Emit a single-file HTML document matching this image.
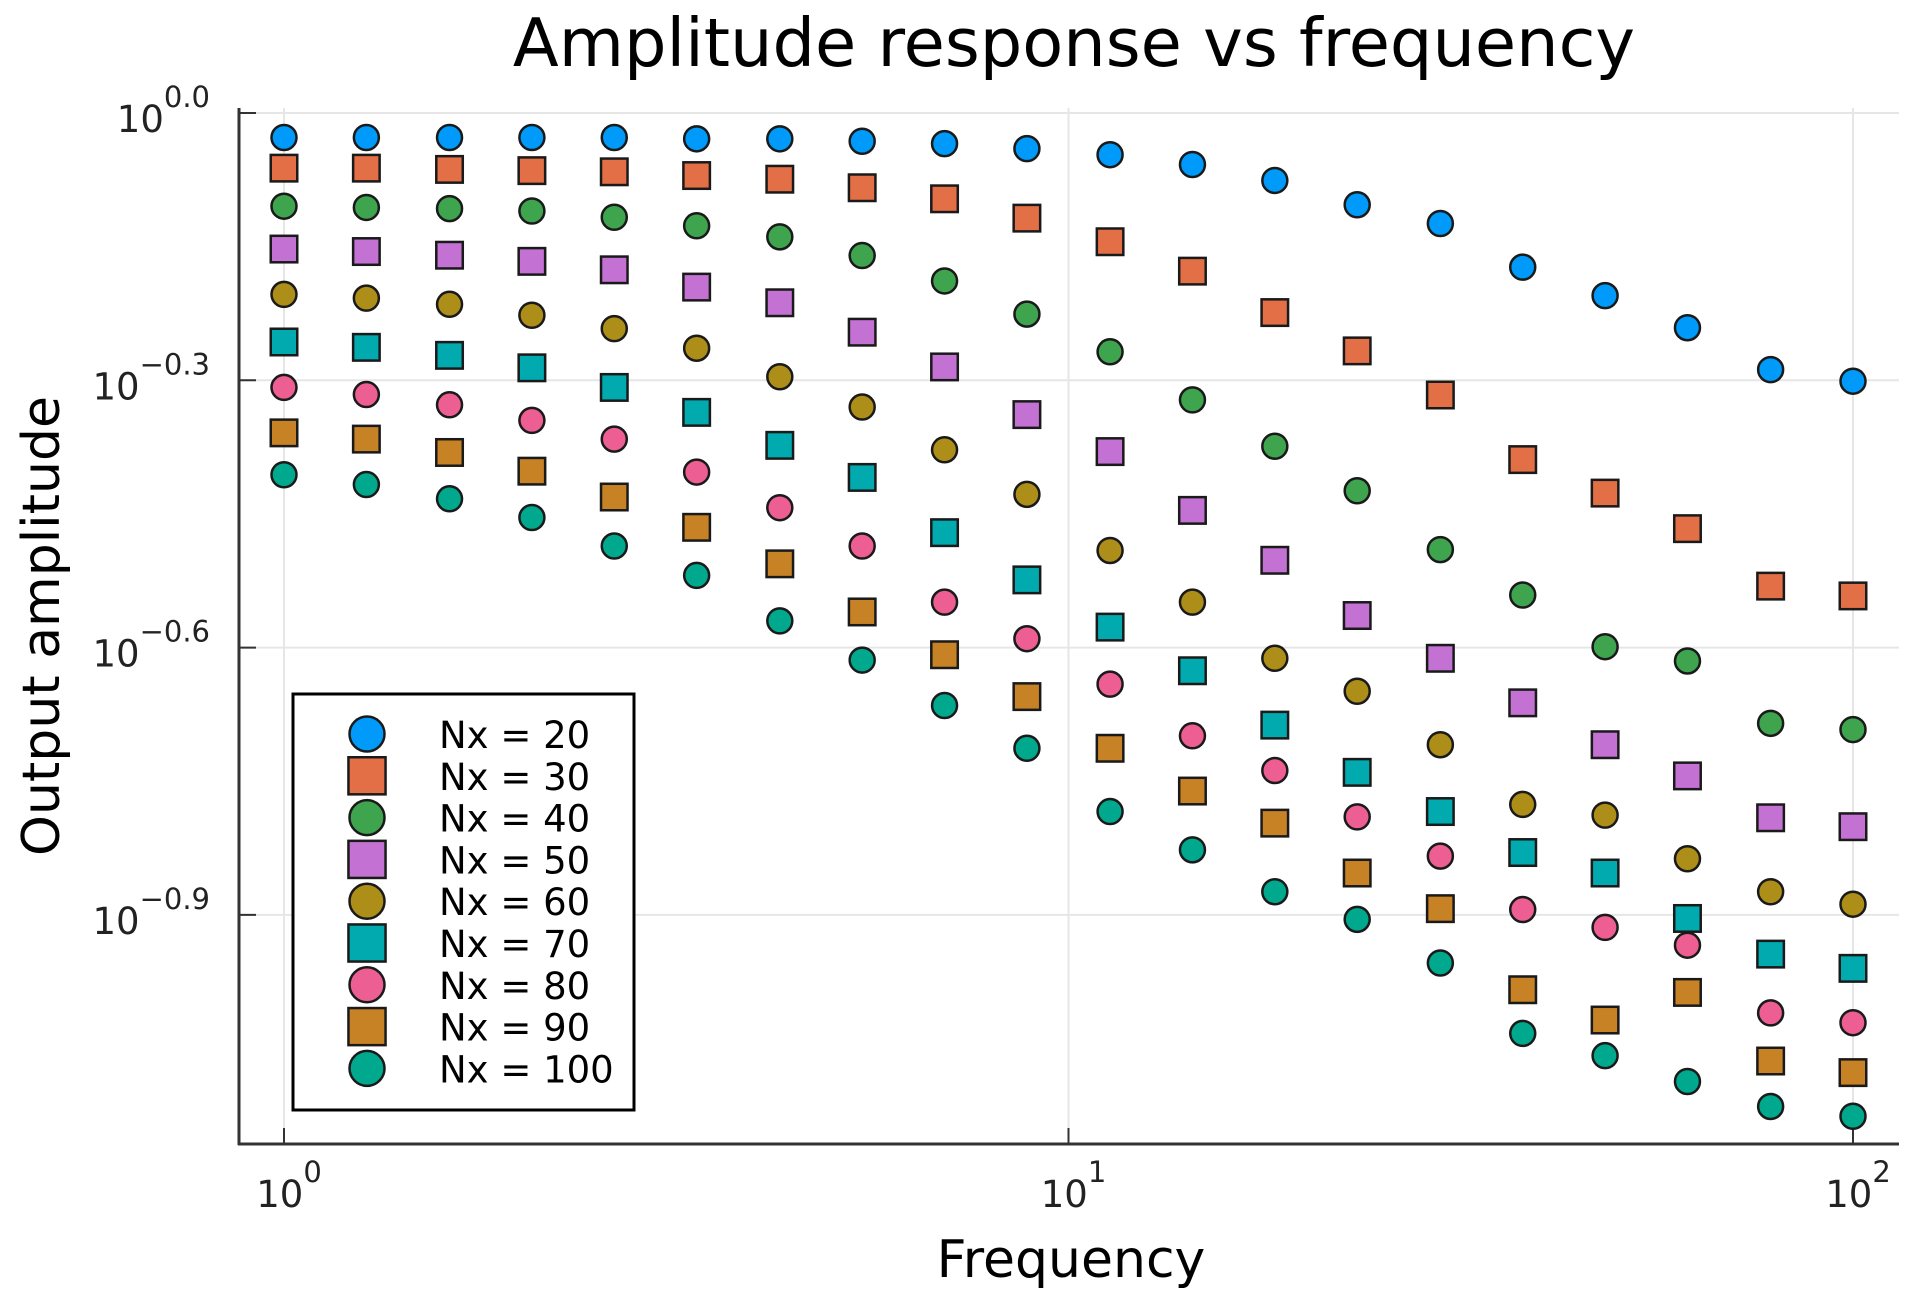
<!DOCTYPE html>
<html><head><meta charset="utf-8"><style>
html,body{margin:0;padding:0;background:#fff;}
svg text{font-family:"DejaVu Sans","Liberation Sans",sans-serif;fill:#000;}
</style></head><body>
<svg id="chart" width="1921" height="1304" viewBox="0 0 1921 1304" xmlns="http://www.w3.org/2000/svg">
<rect x="0" y="0" width="1921" height="1304" fill="#fff"/>
<text x="1074" y="66" font-size="67" text-anchor="middle">Amplitude response vs frequency</text>
<text x="1071" y="1277" font-size="52" text-anchor="middle">Frequency</text>
<text transform="translate(59,626) rotate(-90)" font-size="52" text-anchor="middle">Output amplitude</text>
<g id="grid"></g>
<g id="axes"></g>
<g id="marks"></g>
<g id="legend"></g>
</svg>
<script>
const seriesNames = ["Nx = 20","Nx = 30","Nx = 40","Nx = 50","Nx = 60","Nx = 70","Nx = 80","Nx = 90","Nx = 100"];
const seriesColors = ["#009AFA","#E36F47","#3EA44E","#C371D2","#AC8E18","#00AAAE","#ED5E93","#C68225","#00A98D"];
const seriesShapes = ["circle","square","circle","square","circle","square","circle","square","circle"];
const freqExponents = [0,0.105,0.211,0.316,0.421,0.526,0.632,0.737,0.842,0.947,1.053,1.158,1.263,1.368,1.474,1.579,1.684,1.789,1.895,2];
// log10 of output amplitude for each series
const logAmp20 = [-0.0275,-0.0275,-0.0275,-0.0275,-0.0275,-0.029,-0.029,-0.0317,-0.0344,-0.040,-0.0468,-0.0578,-0.0757,-0.103,-0.124,-0.173,-0.205,-0.241,-0.288,-0.301];
const logAmp30 = [-0.0619,-0.0619,-0.0633,-0.0647,-0.066,-0.0702,-0.0743,-0.0839,-0.0963,-0.118,-0.1445,-0.1775,-0.224,-0.267,-0.3165,-0.389,-0.4266,-0.4665,-0.531,-0.542];
const logAmp40 = [-0.1046,-0.106,-0.1073,-0.110,-0.117,-0.1266,-0.139,-0.160,-0.1885,-0.2257,-0.268,-0.322,-0.374,-0.424,-0.49,-0.541,-0.599,-0.615,-0.685,-0.692];
const logAmp50 = [-0.1527,-0.1555,-0.1596,-0.1665,-0.176,-0.1954,-0.213,-0.246,-0.285,-0.3385,-0.38,-0.446,-0.502,-0.564,-0.612,-0.662,-0.709,-0.744,-0.791,-0.801];
const logAmp60 = [-0.2036,-0.2078,-0.2147,-0.227,-0.242,-0.264,-0.296,-0.330,-0.378,-0.428,-0.491,-0.549,-0.612,-0.649,-0.709,-0.776,-0.788,-0.837,-0.874,-0.888];
const logAmp70 = [-0.257,-0.263,-0.272,-0.286,-0.308,-0.336,-0.373,-0.409,-0.471,-0.524,-0.577,-0.626,-0.687,-0.74,-0.784,-0.830,-0.853,-0.904,-0.944,-0.960];
const logAmp80 = [-0.308,-0.316,-0.3275,-0.345,-0.366,-0.403,-0.443,-0.486,-0.549,-0.590,-0.641,-0.699,-0.738,-0.79,-0.834,-0.894,-0.914,-0.934,-1.010,-1.021];
const logAmp90 = [-0.359,-0.366,-0.381,-0.402,-0.431,-0.465,-0.506,-0.56,-0.608,-0.655,-0.713,-0.761,-0.797,-0.853,-0.893,-0.984,-1.018,-0.987,-1.064,-1.077];
const logAmp100 = [-0.406,-0.417,-0.433,-0.454,-0.486,-0.519,-0.570,-0.614,-0.665,-0.713,-0.784,-0.827,-0.874,-0.905,-0.954,-1.033,-1.058,-1.087,-1.115,-1.126];
const xTickExps = [0,1,2];
const xTickLabels = ["0","1","2"];
const yTickExps = [0,-0.3,-0.6,-0.9];
const yTickLabels = ["0.0","\u22120.3","\u22120.6","\u22120.9"];

const allSeries = [logAmp20,logAmp30,logAmp40,logAmp50,logAmp60,logAmp70,logAmp80,logAmp90,logAmp100];
const NS = "http://www.w3.org/2000/svg";
const PL = 239, PR = 1899, PT = 108, PB = 1144;
const X0 = 284, XDEC = 784.5;
const Y0 = 113, YDEC = 891;
function xScale(e){ return X0 + e * XDEC; }
function yScale(l){ return Y0 - l * YDEC; }
function mk(tag, attrs, parent){ const el = document.createElementNS(NS, tag); for (const k in attrs) el.setAttribute(k, attrs[k]); parent.appendChild(el); return el; }

const grid = document.getElementById('grid');
const axes = document.getElementById('axes');
xTickExps.forEach((e,i)=>{
  const x = xScale(e);
  const gl = mk('line',{x1:x,x2:x,y1:PT,y2:PB,stroke:'#e6e6e6','stroke-width':2},grid);
  
  
  const tk = mk('line',{x1:x,x2:x,y1:PB,y2:PB-16,stroke:'#333','stroke-width':2},axes);
  
  
  const t = mk('text',{x:x+5,y:1207,'font-size':37,'text-anchor':'middle',style:'fill:#222'},axes);
  
  
  t.textContent = '10';
  const s = mk('tspan',{dy:-25,'font-size':29},t);
  s.textContent = xTickLabels[i];
});
yTickExps.forEach((e,i)=>{
  const y = yScale(e);
  const gl = mk('line',{x1:PL,x2:PR,y1:y,y2:y,stroke:'#e6e6e6','stroke-width':2},grid);
  
  
  const tk = mk('line',{x1:PL,x2:PL+17,y1:y,y2:y,stroke:'#333','stroke-width':2},axes);
  
  
  const t = mk('text',{x:210,y:y+19,'font-size':37,'text-anchor':'end',style:'fill:#222'},axes);
  
  
  t.textContent = '10';
  const s = mk('tspan',{dy:-25,'font-size':29},t);
  s.textContent = yTickLabels[i];
});
const ax1 = mk('line',{x1:PL,x2:PL,y1:PT,y2:PB+1,stroke:'#333','stroke-width':3},axes);


const ax2 = mk('line',{x1:PL-1,x2:PR,y1:PB,y2:PB,stroke:'#333','stroke-width':3},axes);



function marker(parent, shape, cx, cy, color, size){
  let el;
  if (shape === 'circle') el = mk('circle',{cx:cx,cy:cy,r:size/2,fill:color,stroke:'#1a1a1a','stroke-width':2.5},parent);
  else el = mk('rect',{x:cx-size*0.53,y:cy-size*0.53,width:size*1.06,height:size*1.06,fill:color,stroke:'#1a1a1a','stroke-width':2.5},parent);
  return el;
}
const marks = document.getElementById('marks');
allSeries.forEach((vals,si)=>{
  const g = mk('g',{},marks);
  
  
  vals.forEach((v,j)=>{
    const m = marker(g, seriesShapes[si], xScale(freqExponents[j]), yScale(v), seriesColors[si], 25);
    
    
  });
});

const legend = document.getElementById('legend');
const lb = mk('rect',{x:293,y:694,width:341,height:416,fill:'#fff',stroke:'#000','stroke-width':3},legend);


seriesNames.forEach((n,i)=>{
  const y = 734 + i*41.8;
  const g = mk('g',{},legend);
  
  
  marker(g, seriesShapes[i], 367, y, seriesColors[i], 35);
  const t = mk('text',{x:439,y:y+14,'font-size':37},g);
  t.textContent = n;
});
</script>
</body></html>
